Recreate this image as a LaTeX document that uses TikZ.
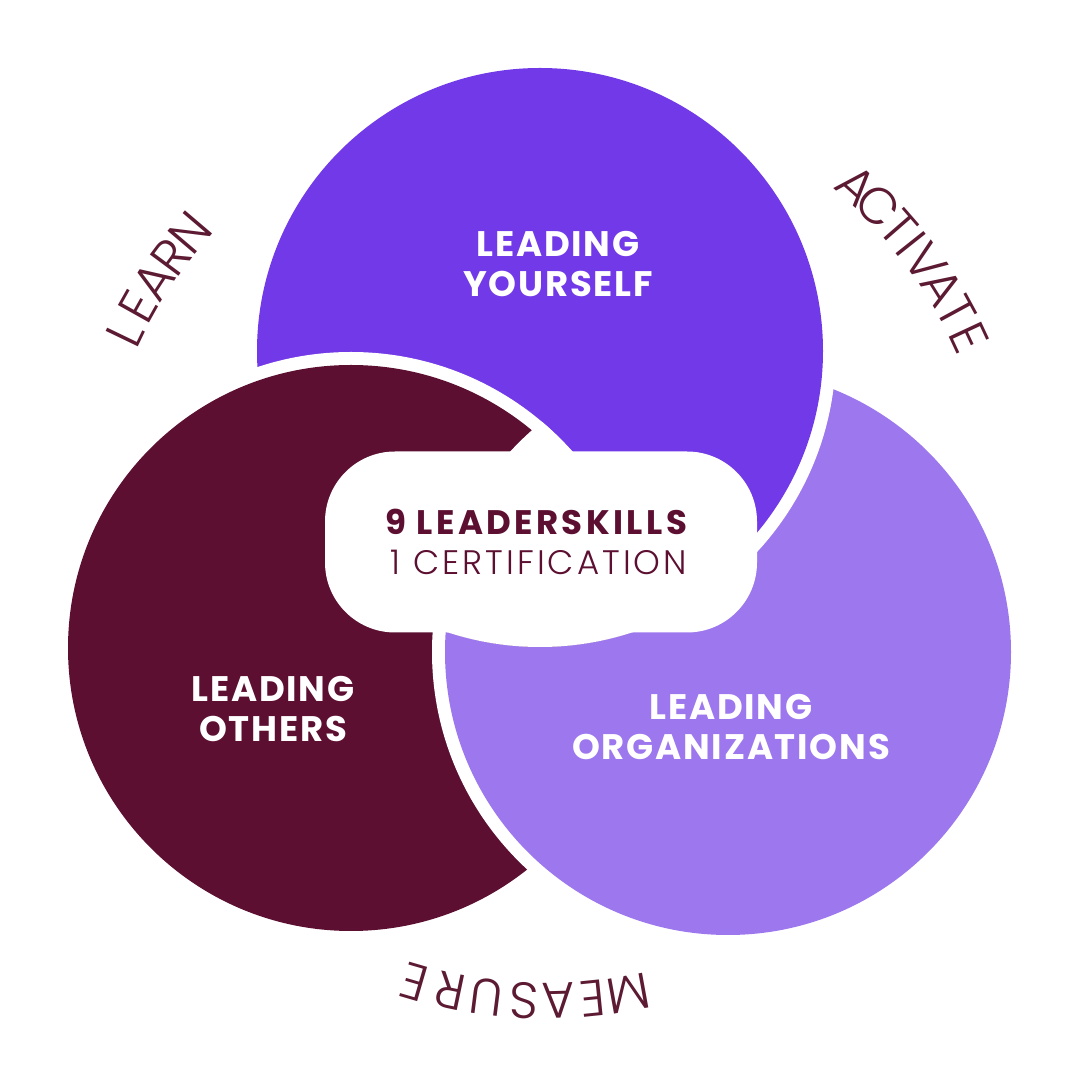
\documentclass[tikz,border=0pt]{standalone}
\usepackage{fontspec}
\setmainfont{Poppins}
\newfontfamily\lightf{Poppins Light}
\newfontfamily\lightsp{Poppins Light}[LetterSpace=9]
\newfontfamily\boldsp{Poppins}[LetterSpace=10]
\newfontfamily\lblsp{Poppins}[LetterSpace=5]
\usetikzlibrary{calc}
\definecolor{cpurple}{HTML}{7239E8}
\definecolor{cmaroon}{HTML}{5C0F31}
\definecolor{clight}{HTML}{9D77EE}
\definecolor{ctext}{HTML}{5C1A33}
\tikzset{
  lbl/.style={text=white, align=center, font=\lblsp\bfseries\fontsize{35.5}{40}\selectfont, inner sep=0pt},
  curv/.style={text=ctext, font=\lightf\fontsize{51}{51}\selectfont, inner sep=0pt, anchor=center},
}
\begin{document}
\begin{tikzpicture}[x=1pt,y=1pt]
\path[use as bounding box, fill=white] (0,0) rectangle (1080,1080);
% circles (cyclic overlap)
\fill[clight] (728,428) circle (283);
\fill[white] (540,729) circle (296);
\fill[cpurple] (540,729) circle (283);
\fill[white] (351,432) circle (296);
\fill[cmaroon] (351,432) circle (283);
\begin{scope}[even odd rule]
  \clip (0,0) rectangle (1080,1080) (540,729) circle (296);
  \fill[white] (728,428) circle (296);
  \fill[clight] (728,428) circle (283);
\end{scope}
\begin{scope}
  \clip (540,729) circle (296);
  \clip (351,432) circle (296);
  \fill[white] (728,428) circle (296);
\end{scope}
% center box
\node[fill=white, rounded corners=70pt, minimum width=432pt, minimum height=181pt, inner sep=0pt] (box) at (541,538) {};
\node[font=\boldsp\bfseries\fontsize{34}{40}\selectfont, text=cmaroon, anchor=base, inner sep=0pt] (l1) at (536,545) {9 LEADERSKILLS};
\node[font=\lightsp\fontsize{34}{40}\selectfont, text=cmaroon, anchor=base, inner sep=0pt] (l2) at (539,505) {1 CERTIFICATION};
% labels
\node[lbl] (ly) at (558,816) {LEADING\\YOURSELF};
\node[lbl] (lo) at (273,371) {LEADING\\OTHERS};
\node[lbl] (lorg) at (731,353) {LEADING\\ORGANIZATIONS};
% curved labels
\coordinate (cc) at (545,545);
\foreach \ch/\a [count=\i] in {L/154.3, E/150.7, A/147.0, R/143.4, N/139.6}
  \node[curv, rotate=\a-90] (learn\i) at ($(cc)+(\a:466)$) {\ch};
\foreach \ch/\a [count=\i] in {A/48.3, C/44.6, T/41.0, I/38.5, V/35.5, A/32.0, T/28.5, E/25.0}
  \node[curv, rotate=\a-90] (act\i) at ($(cc)+(\a:468)$) {\ch};
\foreach \ch/\a [count=\i] in {M/-79.7, E/-84.2, A/-88.4, S/-92.6, U/-97.2, R/-101.8, E/-106.3}
  \node[curv, rotate=\a-90] (meas\i) at ($(cc)+(\a:466)$) {\ch};
\end{tikzpicture}
\end{document}
